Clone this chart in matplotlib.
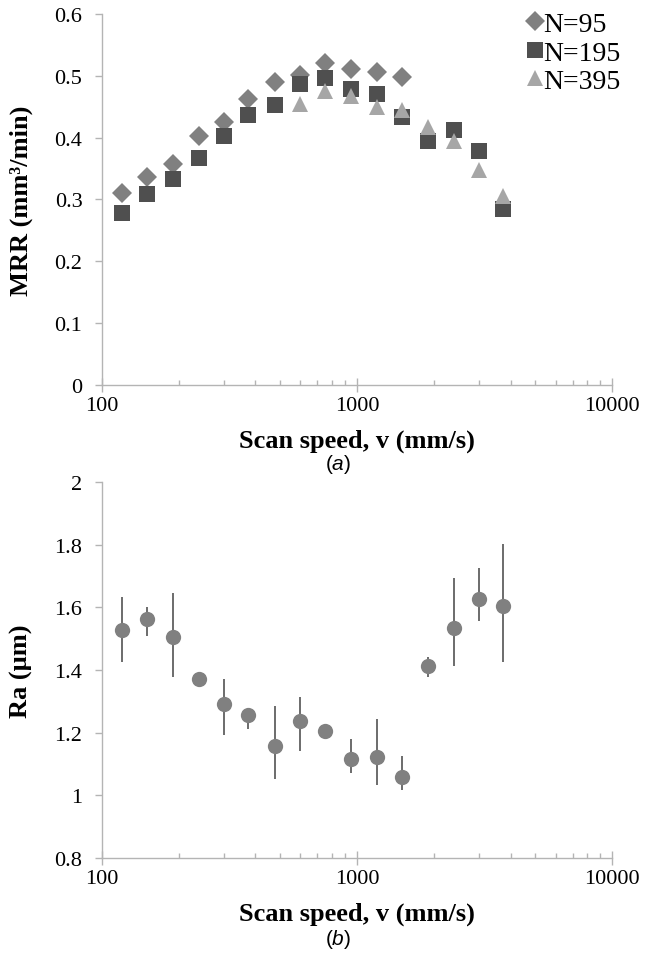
import matplotlib
matplotlib.use('Agg')
import matplotlib.pyplot as plt
from matplotlib.ticker import FixedLocator, LogLocator, NullFormatter, FuncFormatter

plt.rcParams['font.family'] = ['Liberation Serif', 'DejaVu Serif']
plt.rcParams['mathtext.fontset'] = 'custom'
plt.rcParams['mathtext.it'] = 'Liberation Sans:italic'
plt.rcParams['mathtext.rm'] = 'Liberation Sans'

# scan speed (mm/s)
speed = [120, 150, 190, 240, 300, 375, 475, 600, 750, 950, 1200, 1500, 1900, 2400, 3000, 3750]

# MRR (mm3/min)
mrr_95 = [0.310, 0.337, 0.357, 0.402, 0.425, 0.463, 0.490, 0.501, 0.520, 0.511, 0.506, 0.498]
mrr_195 = [0.278, 0.309, 0.333, 0.367, 0.402, 0.436, 0.453, 0.487, 0.497, 0.479, 0.471, 0.434,
           0.395, 0.413, 0.379, 0.284]
mrr_395 = [0.455, 0.475, 0.468, 0.449, 0.444, 0.418, 0.395, 0.347, 0.306]
speed_395 = speed[7:]

# Ra (um) with error bar ends
ra = [1.527, 1.564, 1.504, 1.371, 1.290, 1.256, 1.158, 1.238, 1.205, 1.116, 1.121, 1.057,
      1.413, 1.533, 1.626, 1.603]
ra_hi = [1.634, 1.601, 1.645, 1.376, 1.370, 1.279, 1.284, 1.313, 1.205, 1.180, 1.242, 1.127,
         1.443, 1.695, 1.725, 1.803]
ra_lo = [1.427, 1.507, 1.379, 1.360, 1.192, 1.211, 1.052, 1.141, 1.205, 1.072, 1.033, 1.018,
         1.379, 1.412, 1.557, 1.427]

axis_gray = '#b4b4b4'


def style_axis(ax):
    ax.set_xscale('log')
    ax.set_xlim(100, 10000)
    for s in ['top', 'right']:
        ax.spines[s].set_visible(False)
    for s in ['left', 'bottom']:
        ax.spines[s].set_color(axis_gray)
        ax.spines[s].set_linewidth(1.0)
    ax.xaxis.set_major_locator(FixedLocator([100, 1000, 10000]))
    ax.xaxis.set_major_formatter(FuncFormatter(lambda v, p: '%d' % v))
    ax.xaxis.set_minor_locator(LogLocator(base=10, subs=range(2, 10)))
    ax.xaxis.set_minor_formatter(NullFormatter())
    ax.yaxis.set_major_formatter(FuncFormatter(lambda v, p: '%g' % round(v, 2)))
    ax.tick_params(axis='x', which='major', direction='inout', length=10, width=1,
                   color=axis_gray, labelsize=16, pad=3, labelfontfamily='Liberation Serif')
    ax.tick_params(axis='x', which='minor', direction='in', length=3.6, width=1, color=axis_gray)
    ax.tick_params(axis='y', which='major', direction='out', length=5, width=1,
                   color=axis_gray, labelsize=16, pad=9, labelfontfamily='Liberation Serif')
    ax.set_xlabel('Scan speed, v (mm/s)', fontsize=19, fontweight='bold', labelpad=10)
    ax.yaxis.set_label_coords(-0.135, 0.5)


fig = plt.figure(figsize=(6.45, 9.54), dpi=100)

# (a) MRR
ax1 = fig.add_axes([0.158, 0.5954, 0.791, 0.3889])
ax1.plot(speed[:len(mrr_95)], mrr_95, 'D', color='#808080', ms=10, mew=0, label='N=95')
ax1.plot(speed, mrr_195, 's', color='#4f4f4f', ms=11.5, mew=0, label='N=195')
ax1.plot(speed_395, mrr_395, '^', color='#a6a6a6', ms=12, mew=0, label='N=395')
ax1.set_ylim(0, 0.6)
ax1.set_yticks([0, 0.1, 0.2, 0.3, 0.4, 0.5, 0.6])
style_axis(ax1)
ax1.set_ylabel('MRR (mm³/min)', fontsize=19, fontweight='bold')
ax1.legend(loc='upper left', frameon=False, fontsize=20, handletextpad=0.0,
           handlelength=0.6, labelspacing=0.11, borderaxespad=0.0, borderpad=0.0,
           bbox_to_anchor=(0.833, 1.006))

# (b) Ra
ax2 = fig.add_axes([0.158, 0.0996, 0.791, 0.3941])
err = [[r - l for r, l in zip(ra, ra_lo)], [h - r for r, h in zip(ra, ra_hi)]]
ax2.errorbar(speed, ra, yerr=err, fmt='o', color='#808080', ms=11, mew=0,
             ecolor='#606060', elinewidth=1.3, capsize=3, capthick=1.3)
ax2.set_ylim(0.8, 2.0)
ax2.set_yticks([0.8, 1.0, 1.2, 1.4, 1.6, 1.8, 2.0])
style_axis(ax2)
ax2.set_ylabel('Ra (µm)', fontsize=19, fontweight='bold')

fig.text(0.524, 0.5126, r'($\it{a}$)', ha='center', va='center', fontsize=15,
         family='Liberation Sans')
fig.text(0.524, 0.0147, r'($\it{b}$)', ha='center', va='center', fontsize=15,
         family='Liberation Sans')

fig.savefig('out.png', dpi=100)
